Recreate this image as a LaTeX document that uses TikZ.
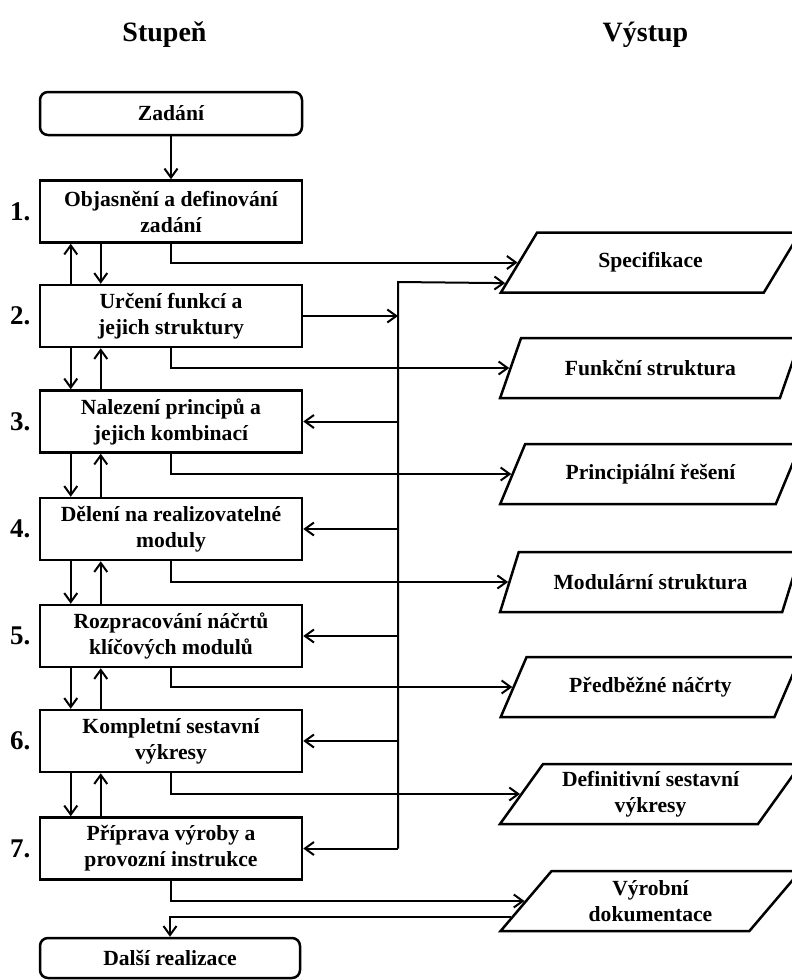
\documentclass[tikz,border=0pt]{standalone}
\usepackage{fontspec}
\setmainfont{Liberation Serif}
\usetikzlibrary{shapes.geometric,arrows.meta,positioning,calc}

\tikzset{
  stepbox/.style={draw, line width=1.25pt, minimum width=131pt, minimum height=31pt,
    align=center, inner sep=2pt, font=\bfseries\fontsize{10.8}{13}\selectfont},
  endbox/.style={stepbox, rounded corners=4pt, minimum height=21.5pt},
  outbox/.style={draw, line width=1.25pt, trapezium, trapezium left angle=54,
    trapezium right angle=126, trapezium stretches=true,
    minimum width=150.5pt, minimum height=30pt, inner sep=1pt,
    align=center, font=\bfseries\fontsize{10.8}{13}\selectfont},
  stepnum/.style={inner sep=0pt, font=\bfseries\fontsize{13.5}{15}\selectfont},
  title/.style={anchor=base, font=\bfseries\fontsize{14}{16}\selectfont},
  arr/.style={line width=1pt, -{Straight Barb[length=4.5pt,width=6.5pt,line width=1pt]}}
}

\begin{document}
\begin{tikzpicture}[x=0.5pt,y=-0.5pt]
\useasboundingbox (0,0) rectangle (792,980);

% titles
\node[title] (stupen) at (164.5,41) {Stupeň};
\node[title] (vystup) at (645.5,41) {Výstup};

% steps
\node[endbox] (zadani) at (171,113.5) {Zadání};
\node[stepbox] (b1) at (171,211.5) {Objasnění a definování\\zadání};
\node[stepbox] (b2) at (171,316) {Určení funkcí a\\jejich struktury};
\node[stepbox] (b3) at (171,421.5) {Nalezení principů a\\jejich kombinací};
\node[stepbox] (b4) at (171,529) {Dělení na realizovatelné\\moduly};
\node[stepbox] (b5) at (171,636) {Rozpracování náčrtů\\klíčových modulů};
\node[stepbox] (b6) at (171,741) {Kompletní sestavní\\výkresy};
\node[stepbox] (b7) at (171,848.5) {Příprava výroby a\\provozní instrukce};
\node[endbox, minimum width=130pt, minimum height=20pt] (dalsi) at (170,958) {Další realizace};

\foreach \i in {1,...,7}
  \node[stepnum, left=4pt of b\i] {\i.};

% outputs
\node[outbox] (o1) at (650.5,262.5) {Specifikace};
\node[outbox] (o2) at (650.5,368) {Funkční struktura};
\node[outbox] (o3) at (650.5,474) {Principiální řešení};
\node[outbox] (o4) at (650.5,582) {Modulární struktura};
\node[outbox] (o5) at (650.5,687) {Předběžné náčrty};
\node[outbox] (o6) at (650.5,794) {Definitivní sestavní\\výkresy};
\node[outbox] (o7) at (650.5,901) {Výrobní\\dokumentace};

% flow between steps
\draw[arr] (zadani) -- (b1);
\draw[arr] ($(b2.north west)+(32,0)$) -- ($(b1.south west)+(32,0)$);
\draw[arr] ($(b1.south west)+(62,0)$) -- ($(b2.north west)+(62,0)$);
\foreach \i/\j in {2/3,3/4,4/5,5/6,6/7} {
  \draw[arr] ($(b\i.south west)+(32,0)$) -- ($(b\j.north west)+(32,0)$);
  \draw[arr] ($(b\j.north west)+(62,0)$) -- ($(b\i.south west)+(62,0)$);
}

% step -> output
\foreach \i in {1,...,7}
  \draw[arr] (b\i.south) |- (o\i.west);

% feedback bus
\coordinate (bustop) at (398,282);
\draw[arr] (b2.east) -- (b2.east -| bustop);
\draw[arr] (b7.east -| bustop) -- (bustop) -- ($(o1.bottom left corner)!0.17!(o1.top left corner)$);
\foreach \i in {3,...,7}
  \draw[arr] (b\i.east -| bustop) -- (b\i.east);

% back to realisation
\draw[arr] ($(o7.bottom left corner)!0.25!(o7.top left corner)$) -| (dalsi.north);
\end{tikzpicture}
\end{document}
